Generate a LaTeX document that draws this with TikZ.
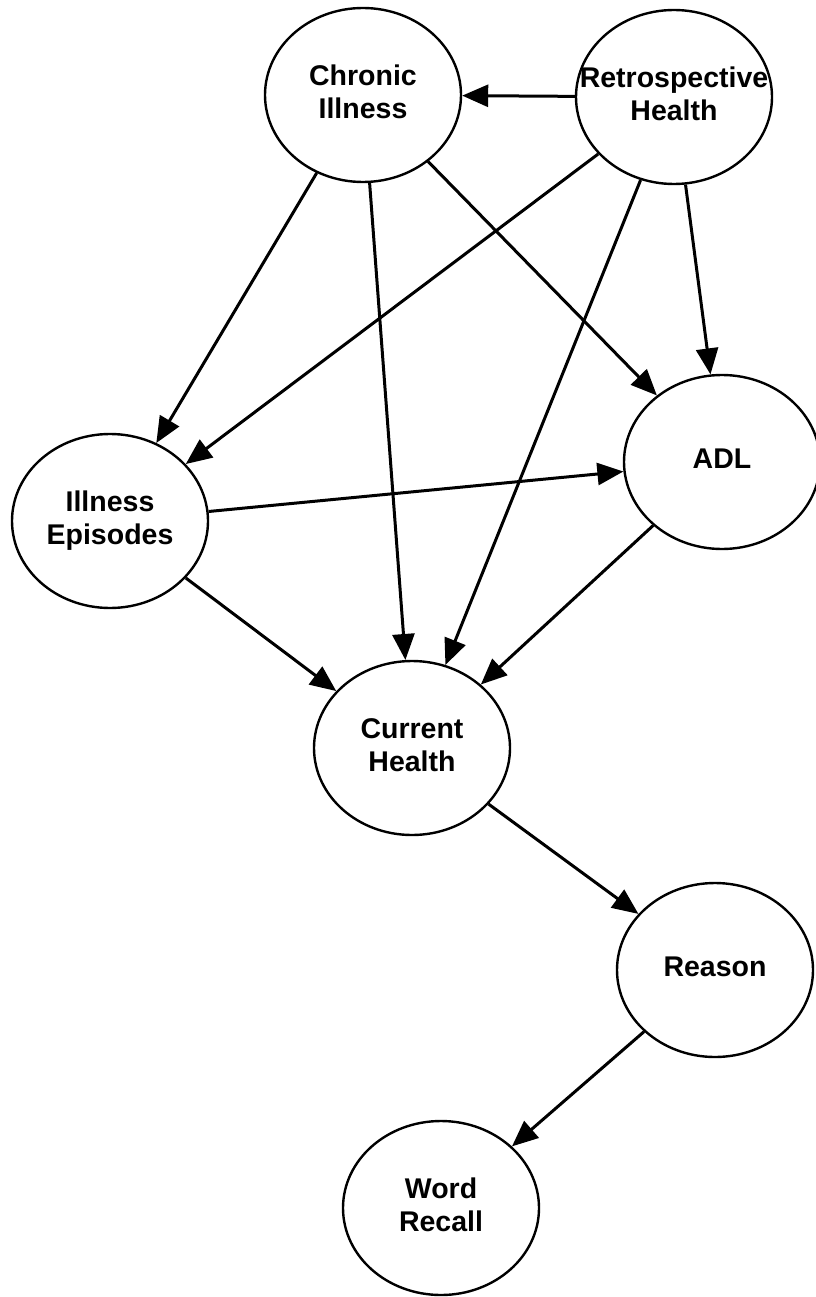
\documentclass[tikz,border=0pt]{standalone}
\usepackage{fontspec}
\newfontfamily\varfont{Liberation Sans Bold}
\usetikzlibrary{shapes.geometric,arrows.meta}
\newcommand\vartext[1]{\makebox[0pt]{\raisebox{-3pt}{\begin{tabular}{@{}c@{}}#1\end{tabular}}}}
\begin{document}
\begin{tikzpicture}[x=1pt,y=-1pt,
  var/.style={ellipse, draw, line width=2.4pt, minimum width=196pt,
    minimum height=174pt, inner sep=0pt,
    font=\varfont\fontsize{28.5pt}{33pt}\selectfont},
  edge/.style={line width=3pt, -{Triangle[length=26pt,width=22pt]}}]
  \useasboundingbox (0,0) rectangle (815,1297);
  % variables
  \node[var] (CI)  at (363,95)   {\vartext{Chronic\\Illness}};
  \node[var] (RH)  at (674,97)   {\vartext{Retrospective\\Health}};
  \node[var] (IE)  at (110,521)  {\vartext{Illness\\Episodes}};
  \node[var] (ADL) at (722,462)  {\vartext{ADL}};
  \node[var] (CH)  at (412,748)  {\vartext{Current\\Health}};
  \node[var] (RE)  at (715,970)  {\vartext{Reason}};
  \node[var] (WR)  at (441,1208) {\vartext{Word\\Recall}};
  % dependencies
  \draw[edge] (RH) -- (CI);
  \draw[edge] (CI) -- (IE);
  \draw[edge] (CI) -- (CH);
  \draw[edge] (CI) -- (ADL);
  \draw[edge] (RH) -- (IE);
  \draw[edge] (RH) -- (CH);
  \draw[edge] (RH) -- (ADL);
  \draw[edge] (IE) -- (ADL);
  \draw[edge] (IE) -- (CH);
  \draw[edge] (ADL) -- (CH);
  \draw[edge] (CH) -- (RE);
  \draw[edge] (RE) -- (WR);
\end{tikzpicture}
\end{document}
